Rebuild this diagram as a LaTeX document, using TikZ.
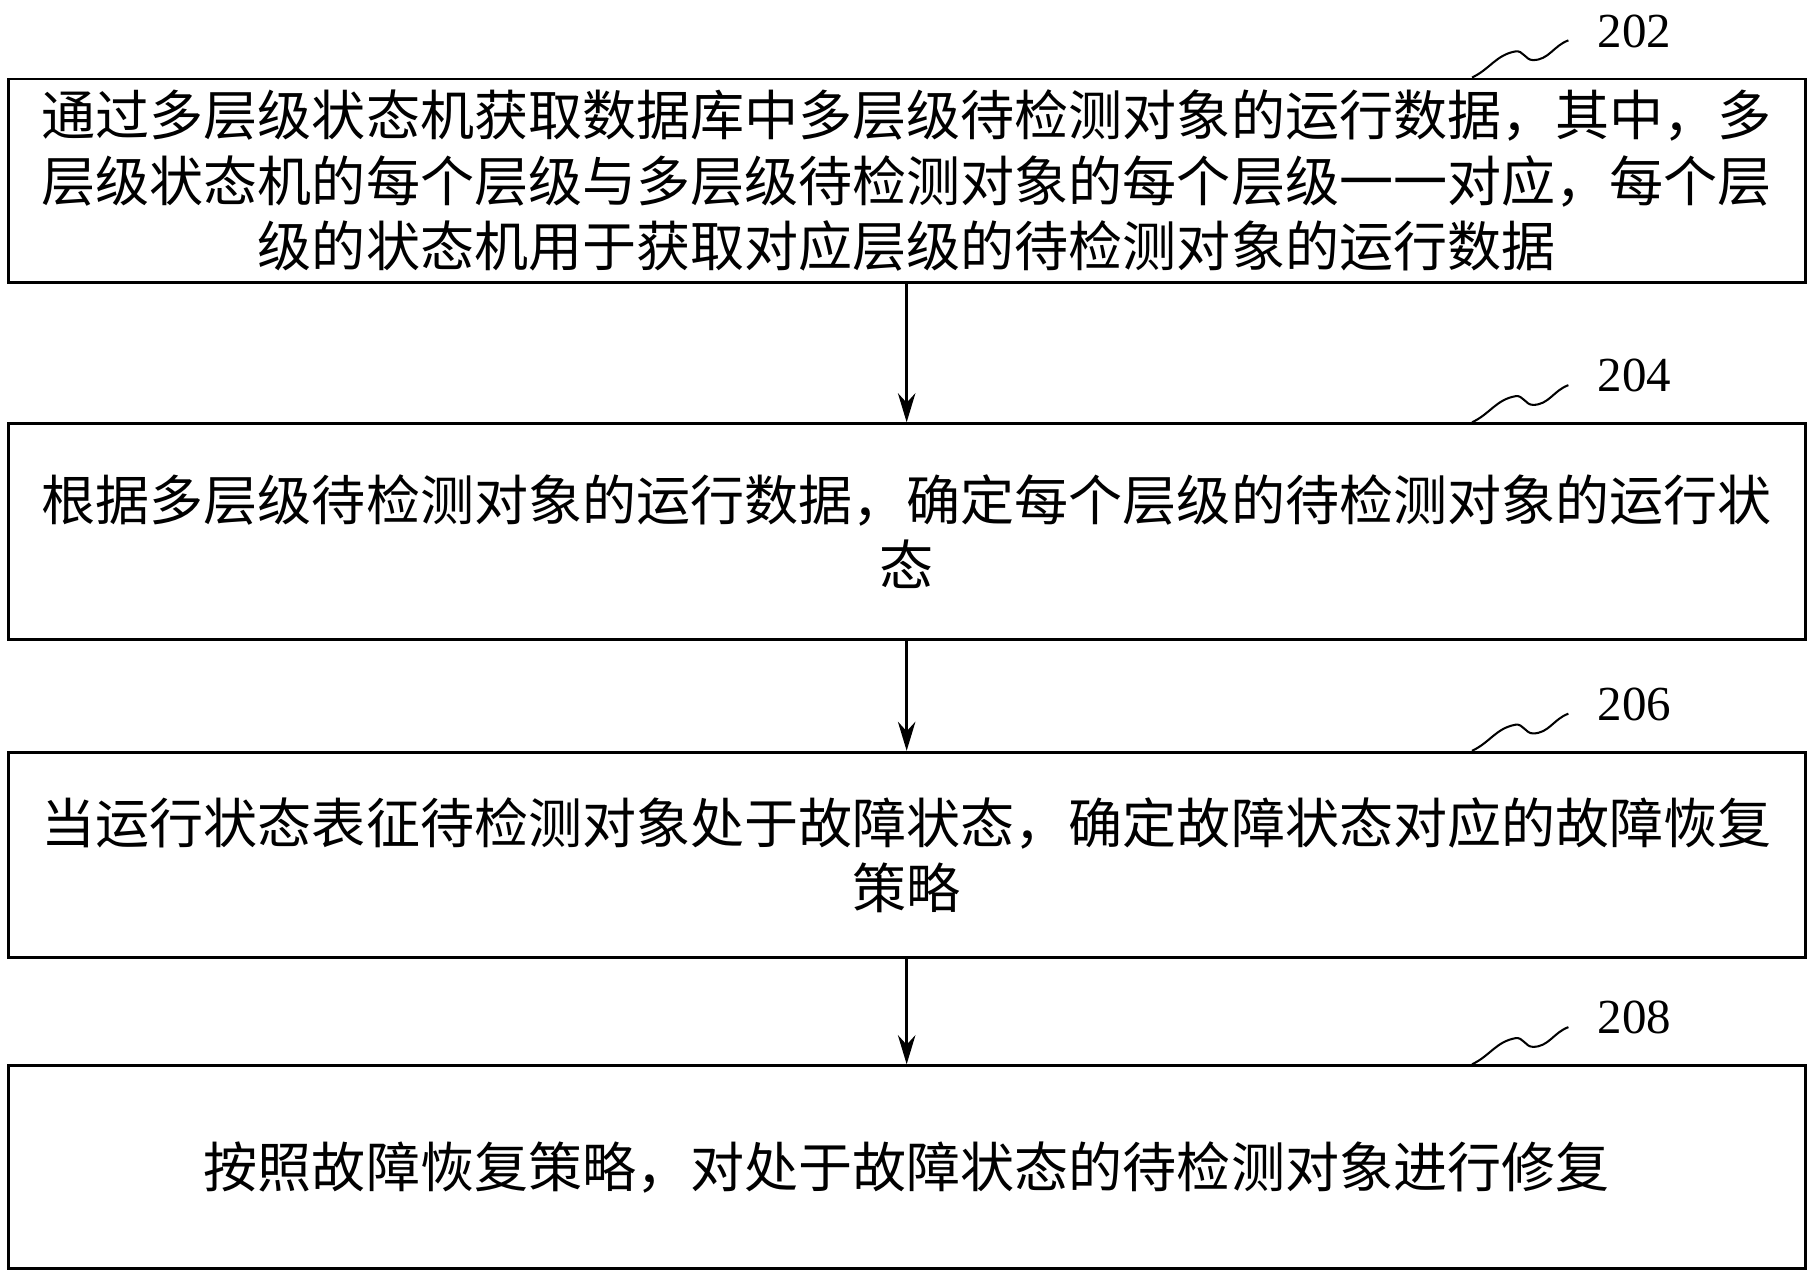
\documentclass[tikz,border=0pt]{standalone}
\usepackage{fontspec}
\setmainfont{Liberation Serif}
\newfontfamily\cjk{Noto Sans CJK SC}
\usetikzlibrary{positioning,arrows.meta}
\tikzset{
  stepbox/.style={draw, line width=1.4pt, minimum width=30.96cm, inner sep=0pt,
    align=center, font=\cjk\fontsize{26.5}{31.9}\selectfont},
  flow/.style={line width=1.6pt, -{Stealth[length=0.5cm,width=0.3cm]}},
  tag/.style={font=\fontsize{24}{28}\selectfont}
}
\begin{document}
\begin{tikzpicture}
  \useasboundingbox (0,0) rectangle (31.2,-22);
  \node[stepbox, minimum height=3.5cm] (s202) at (15.62,-3.11)
    {通过多层级状态机获取数据库中多层级待检测对象的运行数据，其中，多\\
     层级状态机的每个层级与多层级待检测对象的每个层级一一对应，每个层\\
     级的状态机用于获取对应层级的待检测对象的运行数据};
  \node[stepbox, minimum height=3.72cm] (s204) at (15.62,-9.16)
    {根据多层级待检测对象的运行数据，确定每个层级的待检测对象的运行状\\态};
  \node[stepbox, minimum height=3.54cm] (s206) at (15.62,-14.73)
    {当运行状态表征待检测对象处于故障状态，确定故障状态对应的故障恢复\\策略};
  \node[stepbox, minimum height=3.5cm] (s208) at (15.62,-20.11)
    {按照故障恢复策略，对处于故障状态的待检测对象进行修复};

  \draw[flow] (s202.south) -- (s204.north);
  \draw[flow] (s204.south) -- (s206.north);
  \draw[flow] (s206.south) -- (s208.north);

  % step numbers with wavy leaders
  \foreach \s in {202,204,206,208} {
    \coordinate (w\s) at ([xshift=9.74cm]s\s.north);
    \coordinate (e\s) at ([xshift=11.4cm, yshift=0.64cm]s\s.north);
    \node[tag] (n\s) at ([xshift=12.54cm, yshift=0.8cm]s\s.north) {\s};
    \draw[line width=1pt] (w\s) to[out=25,in=190] ([xshift=0.75cm,yshift=0.45cm]w\s)
      to[out=10,in=180] ([xshift=1.05cm,yshift=0.3cm]w\s)
      to[out=0,in=200] (e\s);
  }
\end{tikzpicture}
\end{document}
